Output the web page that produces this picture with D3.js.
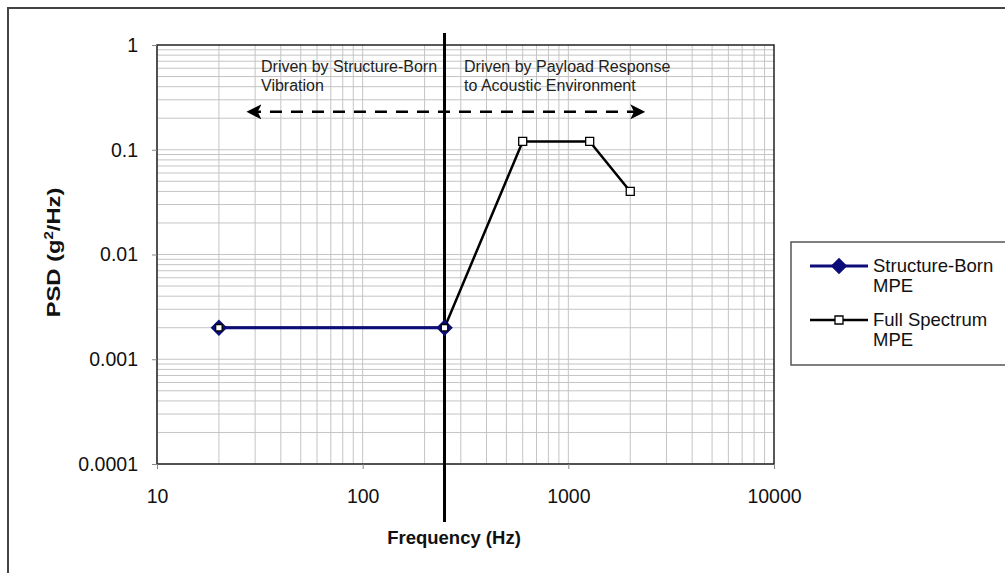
<!DOCTYPE html>
<html>
<head>
<meta charset="utf-8">
<script src="https://cdn.jsdelivr.net/npm/d3@7"></script>
<style>
  body { margin: 0; background: #fff; }
  text { font-family: "Liberation Sans", Arial, sans-serif; }
</style>
</head>
<body>
<div id="chart"></div>
<script>
// PSD chart, log-log

const FRAME_WIDTH = 1005;
const FRAME_HEIGHT = 573;
const MARGINS = {left: 157, right: 231, top: 45, bottom: 109};

const VIS_WIDTH = FRAME_WIDTH - MARGINS.left - MARGINS.right;
const VIS_HEIGHT = FRAME_HEIGHT - MARGINS.top - MARGINS.bottom;

// data
const structureFreq = [20, 250];
const structurePsd = [0.002, 0.002];
const fullFreq = [20, 250, 600, 1270, 2000];
const fullPsd = [0.002, 0.002, 0.12, 0.12, 0.04];
const xTicks = [10, 100, 1000, 10000];
const yTicks = [0.0001, 0.001, 0.01, 0.1, 1];
const yTickLabels = ['0.0001', '0.001', '0.01', '0.1', '1'];
const dividerFreq = 250;
const arrowFreq = [28, 2300];
const arrowPsd = 0.23;
const seriesNames = ['Structure-Born', 'Full Spectrum'];

const FRAME = d3.select('#chart')
  .append('svg')
    .attr('width', FRAME_WIDTH)
    .attr('height', FRAME_HEIGHT);

// outer frame
FRAME.append('rect')
  .attr('x', 8).attr('y', 8)
  .attr('width', 1010).attr('height', 600)
  .attr('fill', 'none')
  .attr('stroke', '#444')
  .attr('stroke-width', 2);

const xscale = d3.scaleLog().domain([10, 10000]).range([0, VIS_WIDTH]);
const yscale = d3.scaleLog().domain([0.0001, 1]).range([VIS_HEIGHT, 0]);

const g = FRAME.append('g')
  .attr('transform', 'translate(' + MARGINS.left + ',' + MARGINS.top + ')');

// grid lines (minor + major)
let xGrid = [];
let yGrid = [];
for (let d = 10; d < 10000; d *= 10) {
  for (let k = 1; k < 10; k++) xGrid.push(d * k);
}
for (let d = 0.0001; d < 0.99; d *= 10) {
  for (let k = 1; k < 10; k++) yGrid.push(d * k);
}

g.selectAll('.xgrid')
  .data(xGrid)
  .enter()
  .append('line')
    .attr('x1', (d) => xscale(d)).attr('x2', (d) => xscale(d))
    .attr('y1', 0).attr('y2', VIS_HEIGHT)
    .attr('stroke', '#c4c4c4')
    .attr('stroke-width', 1);

g.selectAll('.ygrid')
  .data(yGrid)
  .enter()
  .append('line')
    .attr('y1', (d) => yscale(d)).attr('y2', (d) => yscale(d))
    .attr('x1', 0).attr('x2', VIS_WIDTH)
    .attr('stroke', '#c4c4c4')
    .attr('stroke-width', 1);

// plot border
g.append('rect')
  .attr('width', VIS_WIDTH).attr('height', VIS_HEIGHT)
  .attr('fill', 'none')
  .attr('stroke', '#222')
  .attr('stroke-width', 1.5);

// axes
const xAxis = g.append('g')
  .attr('transform', 'translate(0,' + VIS_HEIGHT + ')')
  .call(d3.axisBottom(xscale).tickValues(xTicks).tickFormat(d3.format('d')).tickSize(5).tickPadding(20));
const yAxis = g.append('g')
  .call(d3.axisLeft(yscale).tickValues(yTicks).tickFormat((d, i) => yTickLabels[i]).tickSize(5).tickPadding(14));

[xAxis, yAxis].forEach((a) => {
  a.attr('font-size', null).attr('font-family', null);
  a.select('.domain').remove();
  a.selectAll('.tick line').attr('stroke', '#888');
  a.selectAll('.tick text')
    .style('font-size', '19.5px')
    .style('fill', '#111');
});

// axis titles
g.append('text')
  .attr('x', 297)
  .attr('y', 499)
  .attr('text-anchor', 'middle')
  .style('font-size', '18.5px')
  .attr('font-weight', 'bold')
  .attr('fill', '#111')
  .text('Frequency (Hz)');

const yTitle = g.append('text')
  .attr('transform', 'translate(-97,' + (VIS_HEIGHT / 2 - 2) + ') rotate(-90) scale(1.25,1)')
  .attr('text-anchor', 'middle')
  .style('font-size', '19px')
  .attr('font-weight', 'bold')
  .attr('fill', '#111');
yTitle.append('tspan').text('PSD (g');
yTitle.append('tspan').attr('dy', -7).style('font-size', '12px').text('2');
yTitle.append('tspan').attr('dy', 7).text('/Hz)');

// divider line
g.append('line')
  .attr('x1', xscale(dividerFreq)).attr('x2', xscale(dividerFreq))
  .attr('y1', -12).attr('y2', VIS_HEIGHT + 58)
  .attr('stroke', '#000')
  .attr('stroke-width', 3);

// dashed arrow
const defs = FRAME.append('defs');
defs.append('marker')
  .attr('id', 'arrowhead')
  .attr('viewBox', '0 0 12 12')
  .attr('refX', 10).attr('refY', 6)
  .attr('markerWidth', 6).attr('markerHeight', 6)
  .attr('markerUnits', 'strokeWidth')
  .attr('orient', 'auto-start-reverse')
  .append('path')
    .attr('d', 'M0,0 L12,6 L0,12 L3,6 Z')
    .attr('fill', '#000');

g.append('line')
  .attr('x1', xscale(arrowFreq[0])).attr('x2', xscale(arrowFreq[1]))
  .attr('y1', yscale(arrowPsd)).attr('y2', yscale(arrowPsd))
  .attr('stroke', '#000')
  .attr('stroke-width', 2.5)
  .attr('stroke-dasharray', '12,9')
  .attr('marker-start', 'url(#arrowhead)')
  .attr('marker-end', 'url(#arrowhead)');

// annotations
const notes = [
  {x: 261, lines: ['Driven by Structure-Born', 'Vibration']},
  {x: 464, lines: ['Driven by Payload Response', 'to Acoustic Environment']}
];
notes.forEach((n) => {
  n.lines.forEach((t, i) => {
    FRAME.append('text')
      .attr('x', n.x)
      .attr('y', 72 + i * 19)
      .style('font-size', '16px')
      .attr('fill', '#222')
      .text(t);
  });
});

// series
const structData = structureFreq.map((f, i) => ({f: f, p: structurePsd[i]}));
const fullData = fullFreq.map((f, i) => ({f: f, p: fullPsd[i]}));

const line = d3.line().x((d) => xscale(d.f)).y((d) => yscale(d.p));

g.append('path')
  .datum(fullData)
  .attr('d', line)
  .attr('fill', 'none')
  .attr('stroke', '#000')
  .attr('stroke-width', 2.5);

g.append('path')
  .datum(structData)
  .attr('d', line)
  .attr('fill', 'none')
  .attr('stroke', '#0d0d7a')
  .attr('stroke-width', 3);

const diamond = d3.symbol().type(d3.symbolDiamond2).size(175);
const square = d3.symbol().type(d3.symbolSquare).size(64);
const smallSquare = d3.symbol().type(d3.symbolSquare).size(42);

g.selectAll('.dm')
  .data(structData)
  .enter()
  .append('path')
    .attr('d', diamond)
    .attr('transform', (d) => 'translate(' + xscale(d.f) + ',' + yscale(d.p) + ')')
    .attr('fill', '#0d0d7a');

g.selectAll('.sq')
  .data(fullData)
  .enter()
  .append('path')
    .attr('d', (d, i) => i < 2 ? smallSquare() : square())
    .attr('transform', (d) => 'translate(' + xscale(d.f) + ',' + yscale(d.p) + ')')
    .attr('fill', '#fff')
    .attr('stroke', '#000')
    .attr('stroke-width', 1.3);

// legend
const legend = FRAME.append('g');
legend.append('rect')
  .attr('x', 791).attr('y', 242)
  .attr('width', 230).attr('height', 123)
  .attr('fill', '#fff')
  .attr('stroke', '#555')
  .attr('stroke-width', 1.5);

const legendRows = [
  {y: 266, color: '#0d0d7a', width: 3, sym: diamond, fill: '#0d0d7a', stroke: 'none'},
  {y: 320, color: '#000', width: 2.5, sym: square, fill: '#fff', stroke: '#000'}
];
legendRows.forEach((r, i) => {
  legend.append('line')
    .attr('x1', 810).attr('x2', 868)
    .attr('y1', r.y).attr('y2', r.y)
    .attr('stroke', r.color)
    .attr('stroke-width', r.width);
  legend.append('path')
    .attr('d', r.sym)
    .attr('transform', 'translate(839,' + r.y + ')')
    .attr('fill', r.fill)
    .attr('stroke', r.stroke)
    .attr('stroke-width', 1.3);
  legend.append('text')
    .attr('x', 873).attr('y', r.y + 6)
    .style('font-size', '18.5px')
    .attr('fill', '#111')
    .text(seriesNames[i]);
  legend.append('text')
    .attr('x', 873).attr('y', r.y + 26)
    .style('font-size', '18.5px')
    .attr('fill', '#111')
    .text('MPE');
});
</script>
</body>
</html>
